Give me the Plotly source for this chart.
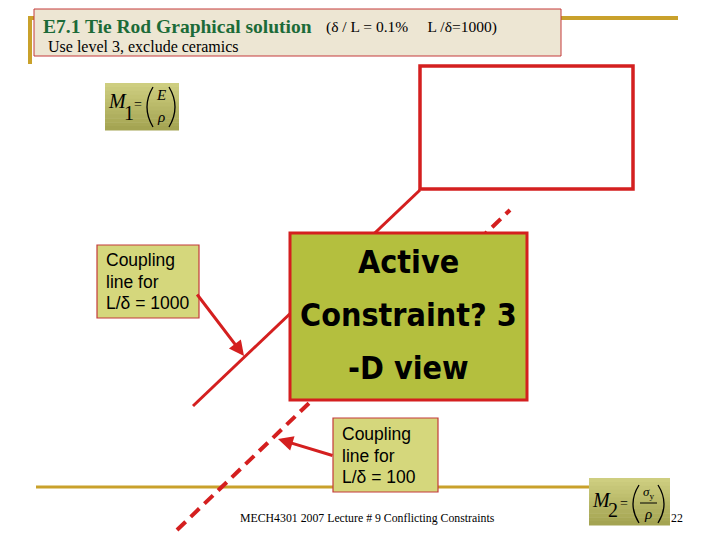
import plotly.graph_objects as go

# ---- data (diagram geometry in page pixels) ----
coupling_1000_x = [193, 420]
coupling_1000_y = [406, 190]
coupling_100_x = [177, 510]
coupling_100_y = [530, 210]

title_main = "E7.1 Tie Rod Graphical solution"
title_params = "(δ / L = 0.1%     L /δ=1000)"
subtitle = "Use level 3, exclude ceramics"
active_lines = ["Active", "Constraint? 3", "-D view"]
label_1000 = ["Coupling", "line for", "L/δ = 1000"]
label_100 = ["Coupling", "line for", "L/δ = 100"]
footer = "MECH4301 2007 Lecture # 9 Conflicting Constraints"
page_no = "22"

RED = "#D41F1F"
GOLD = "#C9A12B"
SERIF = "Liberation Serif"
SANS = "Liberation Sans"
CONDENSED = "DejaVu Sans Condensed, Liberation Sans Narrow, Roboto Condensed, DejaVu Sans"

fig = go.Figure()

# coupling lines
fig.add_trace(go.Scatter(x=coupling_1000_x, y=coupling_1000_y, mode="lines",
                         line=dict(color=RED, width=3), hoverinfo="skip"))
fig.add_trace(go.Scatter(x=coupling_100_x, y=coupling_100_y, mode="lines",
                         line=dict(color=RED, width=4, dash="12px,7px"), hoverinfo="skip"))

shapes = []
# gold rules
shapes.append(dict(type="line", x0=30, x1=678, y0=18, y1=18, line=dict(color=GOLD, width=4), layer="below"))
shapes.append(dict(type="line", x0=30, x1=30, y0=16, y1=64, line=dict(color=GOLD, width=4), layer="below"))
shapes.append(dict(type="line", x0=36, x1=640, y0=487, y1=487, line=dict(color=GOLD, width=3), layer="below"))
# title box
shapes.append(dict(type="rect", x0=34, x1=561, y0=9, y1=56, fillcolor="#EDE6D3",
                   line=dict(color="#C43A3A", width=1), layer="below"))
# empty red rectangle
shapes.append(dict(type="rect", x0=420, x1=633, y0=66, y1=189, fillcolor="rgba(0,0,0,0)",
                   line=dict(color=RED, width=3.5), layer="above"))
# active constraint box
shapes.append(dict(type="rect", x0=290, x1=527, y0=233, y1=400, fillcolor="#B4BF3E",
                   line=dict(color=RED, width=3), layer="above"))
# coupling label boxes
shapes.append(dict(type="rect", x0=97, x1=199, y0=245, y1=318, fillcolor="#D5D77C",
                   line=dict(color="#C43A3A", width=1.2), layer="above"))
shapes.append(dict(type="rect", x0=333, x1=438, y0=418, y1=492, fillcolor="#D5D77C",
                   line=dict(color="#C43A3A", width=1.2), layer="above"))


# gradient formula boxes
def grad_box(x0, x1, y0, y1, c_top, c_bot, n=12):
    h = (y1 - y0) / n
    for i in range(n):
        t = i / (n - 1)
        c = tuple(int(round(c_top[k] + (c_bot[k] - c_top[k]) * t)) for k in range(3))
        shapes.append(dict(type="rect", x0=x0, x1=x1, y0=y0 + i * h, y1=y0 + (i + 1) * h + 0.6,
                           fillcolor="rgb(%d,%d,%d)" % c, line=dict(width=0), layer="above"))


grad_box(105, 179, 83, 130, (206, 206, 128), (164, 164, 82))
grad_box(589, 670, 478, 525, (206, 206, 128), (164, 164, 82))


def paren(x_top, x_mid, y0, y1):
    ym = (y0 + y1) / 2
    shapes.append(dict(type="path", path="M %g %g Q %g %g %g %g" % (x_top, y0, x_mid, ym, x_top, y1),
                       line=dict(color="black", width=1.3), layer="above"))


# M1 parentheses
paren(153, 141, 87, 127)
paren(169, 181, 87, 127)
# M2 parentheses
paren(639, 627, 485, 523)
paren(658, 670, 485, 523)
# fraction bar in M2
shapes.append(dict(type="line", x0=640, x1=657, y0=503, y1=503, line=dict(color="black", width=1), layer="above"))

ann = []


def txt(x, y, s, size, color="black", family=SERIF, xanchor="left", **kw):
    ann.append(dict(x=x, y=y, text=s, showarrow=False, xanchor=xanchor, yanchor="middle",
                    font=dict(size=size, color=color, family=family), **kw))


txt(41, 26, "<b>" + title_main + "</b>", 19.5, color="#1C6B38")
txt(324, 27, title_params, 15.5)
txt(46, 46, subtitle, 16)

# Active constraint text
for i, s in enumerate(active_lines):
    txt(408, 262 + i * 53, "<b>" + s + "</b>", 32, family=CONDENSED, xanchor="center")

# coupling labels
for i, s in enumerate(label_1000):
    txt(104, 260 + i * 21.5, s, 17.5, family=SANS)
for i, s in enumerate(label_100):
    txt(340, 434 + i * 21.5, s, 17.5, family=SANS)

# M1 formula
txt(106, 101, "<i>M</i>", 20)
txt(122, 113, "1", 20)
txt(132, 104, "=", 14)
txt(161, 95, "<i>E</i>", 15, xanchor="center")
txt(161, 117, "<i>ρ</i>", 15, xanchor="center")

# M2 formula
txt(590, 500, "<i>M</i>", 20)
txt(606, 510, "2", 20)
txt(618, 503, "=", 14)
txt(648, 492, "<i>σ</i><sub>y</sub>", 13, xanchor="center")
txt(648, 514, "<i>ρ</i>", 15, xanchor="center")

# footer
txt(238, 518, footer, 11.8)
txt(669, 518, page_no, 11.8)

# arrows
ann.append(dict(x=244, y=356, ax=196, ay=293, xref="x", yref="y", axref="x", ayref="y",
                showarrow=True, arrowhead=2, arrowsize=1, arrowwidth=3, arrowcolor=RED, text=""))
ann.append(dict(x=278, y=439, ax=334, ay=456, xref="x", yref="y", axref="x", ayref="y",
                showarrow=True, arrowhead=2, arrowsize=1, arrowwidth=3, arrowcolor=RED, text=""))

fig.update_layout(
    width=720, height=540, margin=dict(l=0, r=0, t=0, b=0),
    paper_bgcolor="white", plot_bgcolor="white", showlegend=False,
    xaxis=dict(range=[0, 720], visible=False, fixedrange=True),
    yaxis=dict(range=[540, 0], visible=False, fixedrange=True),
    shapes=shapes, annotations=ann,
)

fig.write_html("out.html", config={"displayModeBar": False},
               post_script="document.body.style.margin='0';")
